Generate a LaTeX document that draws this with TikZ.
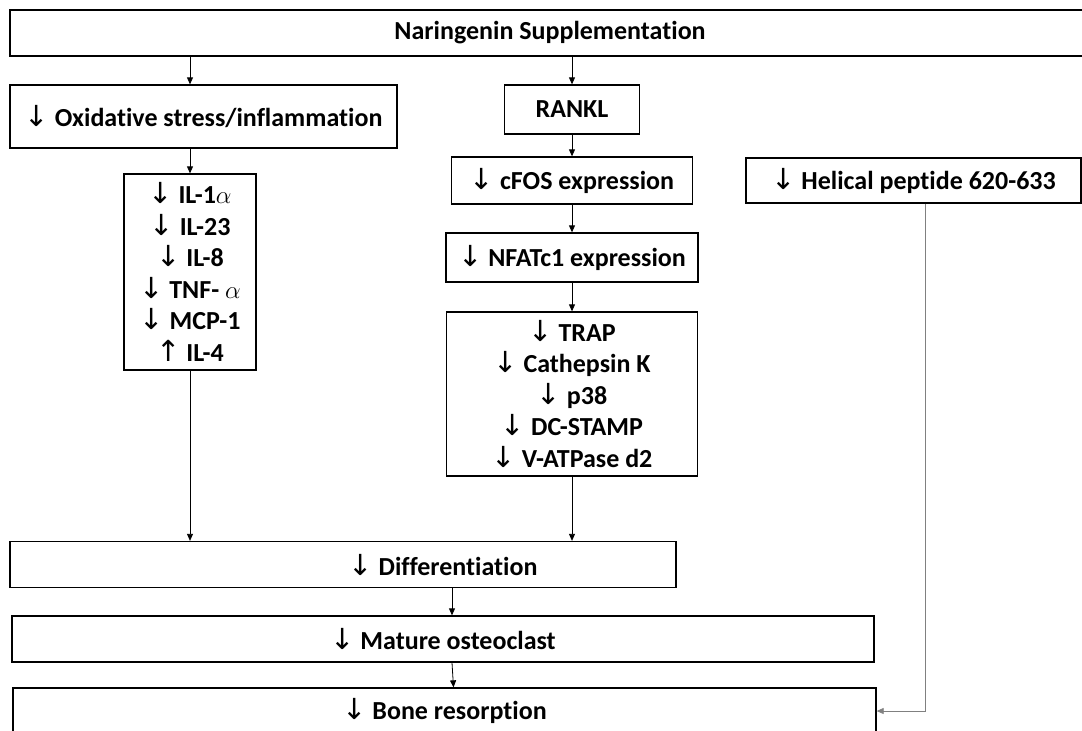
\documentclass[tikz,border=0pt]{standalone}
\usepackage{fontspec}
\setmainfont{Carlito}[Ligatures=NoCommon]
\newfontfamily\arrowfont{DejaVu Sans}
\usetikzlibrary{arrows.meta}
\newcommand{\dn}{{\arrowfont\mdseries\fontsize{29}{31.5}\selectfont\char"2193}}
\newcommand{\up}{{\arrowfont\mdseries\fontsize{29}{31.5}\selectfont\char"2191}}
\newcommand{\alf}{{\fontsize{30}{31.5}\selectfont$\alpha$}}
\begin{document}
\begin{tikzpicture}[x=1pt, y=-1pt, >={Triangle[length=7pt,width=6pt]},
    box/.style={draw, line width=1.3pt, inner sep=0pt, align=center,
        font=\fontsize{26}{31.5}\selectfont\bfseries},
    link/.style={->, line width=0.8pt},
    graylink/.style={->, line width=0.8pt, gray}]
    \useasboundingbox (0,0) rectangle (1082,731);
    \node[box, minimum width=1080, minimum height=46] (nar) at (550,33) {Naringenin Supplementation};
    \node[box, minimum width=387, minimum height=63] (oxi) at (203.5,116.5) {\dn{} Oxidative stress/inflammation};
    \node[box, minimum width=135, minimum height=49] (rankl) at (572,109.5) {RANKL};
    \node[box, minimum width=132, minimum height=196] (il) at (190,272)
        {\dn{} IL-1\alf\\ \dn{} IL-23\\ \dn{} IL-8\\ \dn{} TNF- \alf\\ \dn{} MCP-1\\ \up{} IL-4};
    \node[box, minimum width=241, minimum height=47] (cfos) at (572,180.5) {\dn{} cFOS expression};
    \node[box, minimum width=252, minimum height=49] (nfat) at (572,257.5) {\dn{} NFATc1 expression};
    \node[box, minimum width=251, minimum height=164] (trap) at (572,394)
        {\dn{} TRAP\\ \dn{} Cathepsin K\\ \dn{} p38\\ \dn{} DC-STAMP\\ \dn{} V-ATPase d2};
    \node[box, minimum width=335, minimum height=45] (helic) at (913.5,180.5) {\dn{} Helical peptide 620-633};
    \node[box, minimum width=666, minimum height=46] (diff) at (343,564.5) {};
    \node[box, draw=none] (difftxt) at (443,565) {\dn{} Differentiation};
    \node[box, minimum width=862, minimum height=46] (mature) at (443,639) {\dn{} Mature osteoclast};
    \node[box, minimum width=863, minimum height=46] (bone) at (444.5,711) {\dn{} Bone resorption};

    \draw[link] (nar.south -| il) -- (oxi.north -| il);
    \draw[link] (nar.south -| rankl) -- (rankl.north);
    \draw[link] (oxi.south -| il) -- (il.north);
    \draw[link] (il.south) -- (il.south |- diff.north);
    \draw[link] (rankl.south) -- (cfos.north);
    \draw[link] (cfos.south) -- (nfat.north);
    \draw[link] (nfat.south) -- (trap.north);
    \draw[link] (trap.south) -- (trap.south |- diff.north);
    \draw[link] ([xshift=9]mature.north |- diff.south) -- ([xshift=9]mature.north);
    \draw[link] ([xshift=9]mature.south) -- ([xshift=9]bone.north);
    \draw[graylink] ([xshift=12]helic.south) |- (bone.east);
\end{tikzpicture}
\end{document}
